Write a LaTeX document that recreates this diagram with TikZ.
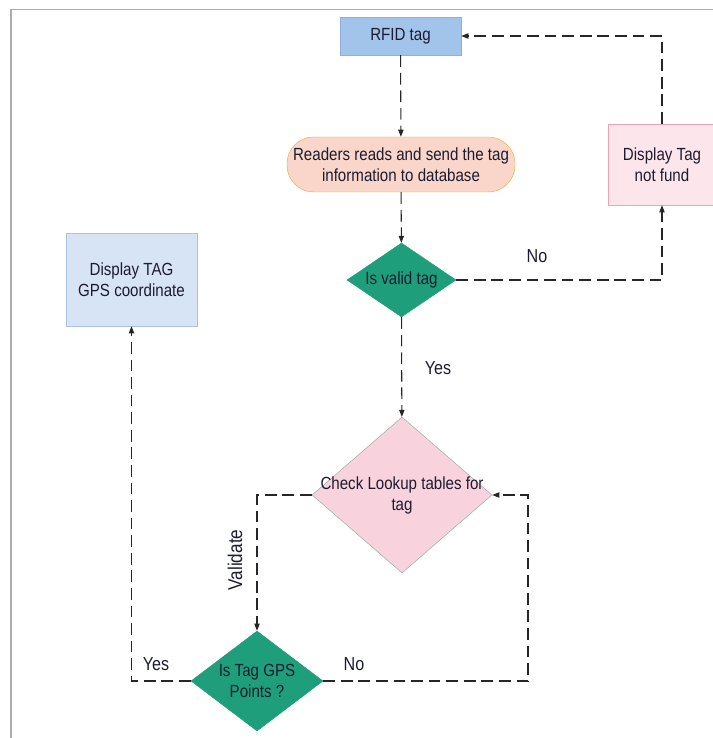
\documentclass[tikz,border=0pt]{standalone}
\usepackage{fontspec}
\setmainfont{Liberation Sans}[FakeStretch=0.86]
\usepackage{tikz}
\usetikzlibrary{arrows.meta,shapes.geometric}
\definecolor{tagblue}{RGB}{163,196,234}
\definecolor{tagline}{RGB}{140,176,220}
\definecolor{readfill}{RGB}{250,214,202}
\definecolor{readline}{RGB}{226,178,70}
\definecolor{tealfill}{RGB}{30,158,122}
\definecolor{notfill}{RGB}{252,230,236}
\definecolor{notline}{RGB}{228,166,184}
\definecolor{gpsfill}{RGB}{214,228,245}
\definecolor{gpsline}{RGB}{170,194,226}
\definecolor{checkfill}{RGB}{248,210,220}
\definecolor{checkline}{RGB}{150,172,165}
\definecolor{txtdark}{RGB}{28,28,48}

\begin{document}
\begin{tikzpicture}[x=0.03cm,y=-0.03cm,
  every node/.style={text=txtdark,font=\fontsize{15}{18}\selectfont},
  box/.style={draw,rectangle,align=center,inner sep=2pt},
  decision/.style={diamond,draw,align=center,inner sep=0pt},
  flow/.style={draw=black!85,line width=0.9pt,dash pattern=on 10pt off 5pt,
    -{Triangle[length=6pt,width=4.5pt]}},
  lbl/.style={font=\fontsize{16}{18}\selectfont}]
\useasboundingbox (0,0) rectangle (713,738);
\clip (0,0) rectangle (713,738);
% cornice
\draw[gray!65,line width=1.4pt] (11,738) -- (11,9.5) -- (713,9.5);
% blocchi
\node[box,fill=tagblue,draw=tagline,minimum width=3.63cm,minimum height=1.14cm] (rfid) at (400.5,36) {RFID tag};
\node[box,fill=readfill,draw=readline,rounded corners=0.8cm,minimum width=6.84cm,minimum height=1.65cm] (reader) at (401,164.5) {Readers reads and send the tag\\information to database};
\node[decision,fill=tealfill,draw=tealfill,aspect=1.47,minimum width=3.27cm,minimum height=2.22cm] (valid) at (401.5,280) {Is valid tag};
\node[box,fill=notfill,draw=notline,minimum width=3.24cm,minimum height=2.43cm] (notfund) at (662,164.5) {Display Tag\\not fund};
\node[box,fill=gpsfill,draw=gpsline,minimum width=3.93cm,minimum height=2.79cm] (gpsbox) at (131.5,279.5) {Display TAG\\GPS coordinate};
\node[decision,fill=checkfill,draw=checkline,aspect=1.15,inner sep=-7pt,minimum width=5.4cm,minimum height=4.68cm] (check) at (402,495) {Check Lookup tables for\\tag};
\node[decision,fill=tealfill,draw=tealfill,aspect=1.32,minimum width=3.96cm,minimum height=3cm] (gpspt) at (257,681) {Is Tag GPS\\Points ?};
\coordinate (nocorner) at (528,681);
% collegamenti
\draw[flow] (rfid) -- (reader);
\draw[flow] (reader) -- (valid);
\draw[flow] (valid.east) -| (notfund.south);
\draw[flow] (notfund.north) |- (rfid.east);
\draw[flow] (valid) -- (check);
\draw[flow] (check.west) -| (gpspt.north);
\draw[flow] (gpspt.west) -| (gpsbox.south);
\draw[flow] (gpspt.east) -- (nocorner) |- (check.east);
% etichette
\node[lbl] (nolbla) at (537,256) {No};
\node[lbl] (yeslbla) at (438,368) {Yes};
\node[lbl,rotate=90,font=\fontsize{17}{18}\selectfont] (vallbl) at (235,560) {Validate};
\node[lbl] (yeslblb) at (156,664) {Yes};
\node[lbl] (nolblb) at (354,664) {No};
\end{tikzpicture}
\end{document}
